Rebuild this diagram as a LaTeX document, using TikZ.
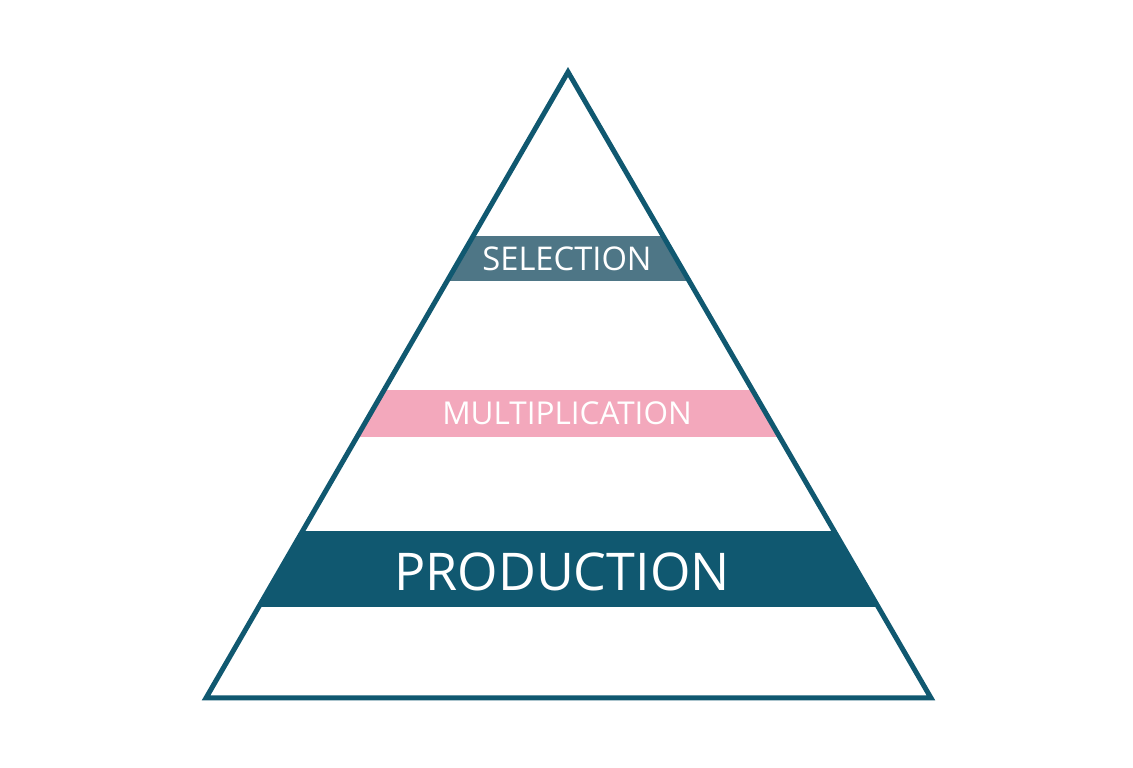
\documentclass[tikz,border=0pt]{standalone}
\usepackage{fontspec}
\setmainfont{Open Sans}
\usetikzlibrary{positioning,calc}
\definecolor{TealDark}{RGB}{16,88,112}
\definecolor{SlateTeal}{RGB}{78,118,134}
\definecolor{SoftPink}{RGB}{243,168,188}

\begin{document}
\begin{tikzpicture}[x=1pt, y=1pt,
    lbl/.style={text=white, anchor=base, inner sep=0pt}
  ]
    \useasboundingbox (0,0) rectangle (1133,768);
    \coordinate (top) at (568,696);
    \coordinate (bl) at (206,70);
    \coordinate (br) at (931,70);
    % bands, cut to the triangle
    \begin{scope}
      \clip (top) -- (bl) -- (br) -- cycle;
      \fill[SlateTeal] (0,487) rectangle (1133,532);
      \fill[SoftPink] (0,331) rectangle (1133,378);
      \fill[TealDark] (0,161) rectangle (1133,237);
    \end{scope}
    \draw[TealDark, line width=5pt, line join=miter] (top) -- (bl) -- (br) -- cycle;
    \node[lbl, font=\fontsize{32.7}{33}\selectfont] (sel) at (567,497) {SELECTION};
    \node[lbl, font=\fontsize{31.5}{32}\selectfont] (mul) at (567,343) {MULTIPLICATION};
    \node[lbl, font=\fontsize{52}{52}\selectfont] (pro) at (562,177) {PRODUCTION};
  \end{tikzpicture}
\end{document}
